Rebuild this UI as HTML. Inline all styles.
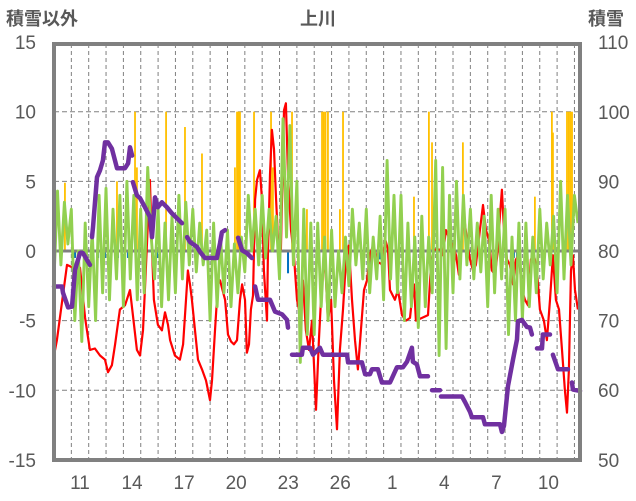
<!DOCTYPE html>
<html><head><meta charset="utf-8">
<style>
body{margin:0;background:#fff;}
svg{display:block;font-family:"Liberation Sans","Noto Sans CJK JP",sans-serif;}
</style></head>
<body>
<svg id="chart" width="636" height="501" viewBox="0 0 636 501" xmlns="http://www.w3.org/2000/svg">
<text x="6" y="25" font-size="18" fill="#595959" font-weight="bold">積雪以外</text>
<text x="318" y="25" font-size="18" fill="#595959" font-weight="bold" text-anchor="middle">上川</text>
<text x="588" y="25" font-size="18" fill="#595959" font-weight="bold">積雪</text>
<g id="grid"></g><g id="marks"></g><g id="labels"></g>
</svg>
<script>
const leftTicks=[15,10,5,0,-5,-10,-15];
const rightTicks=[110,100,90,80,70,60,50];
const dayLabels=["11","14","17","20","23","26","1","4","7","10"];
const dayLabelPos=[1,4,7,10,13,16,19,22,25,28];
const redT=[0,.17,.75,1.1,1.5,1.79,2.07,2.36,2.65,2.94,3.11,3.34,3.52,3.63,3.8,4.09,4.38,4.55,4.78,4.96,5.13,5.24,5.42,5.53,5.65,5.76,5.99,6.22,6.4,6.57,6.69,6.97,7.26,7.44,7.61,7.72,7.84,7.95,8.13,8.3,8.53,8.76,8.99,9.11,9.28,9.45,9.57,9.86,10.03,10.2,10.37,10.55,10.72,10.84,11.01,11.12,11.24,11.35,11.47,11.59,11.7,11.87,11.99,12.1,12.28,12.33,12.45,12.56,12.68,12.8,12.91,13.08,13.26,13.37,13.49,13.66,13.83,14.01,14.18,14.35,14.52,14.7,14.87,15.1,15.27,15.45,15.62,15.79,15.97,16.14,16.31,16.48,16.66,16.83,17.0,17.18,17.35,17.52,17.69,17.87,18.04,18.21,18.39,18.67,18.96,19.08,19.25,19.37,19.65,19.83,20.06,20.29,20.52,20.63,20.75,20.86,21.21,21.56,21.73,21.9,22.25,22.42,22.59,22.82,23.0,23.17,23.34,23.52,23.63,23.8,23.98,24.15,24.32,24.55,24.73,24.9,25.07,25.24,25.42,25.59,25.71,25.82,25.94,26.11,26.28,26.46,26.63,26.8,26.97,27.15,27.32,27.49,27.67,27.84,28.01,28.24,28.41,28.59,28.76,28.93,29.11,29.28,29.45,29.57,29.68,29.8,29.91,30.03,30.2];
const redV=[-7.5,-6.4,-1.0,-1.2,-1.2,-4.8,-7.1,-7.0,-7.5,-7.8,-8.7,-8.2,-6.7,-5.7,-4.2,-3.9,-2.8,-4.6,-7.1,-7.5,-5.7,-2.8,2.2,5.1,0.1,-3.5,-5.3,-5.7,-4.4,-5.3,-6.4,-7.5,-7.8,-6.7,-3.5,-1.4,-2.4,-3.5,-5.7,-7.8,-8.5,-9.3,-10.7,-9.3,-5.7,-2.4,-2.1,-3.5,-6.0,-6.5,-6.7,-6.4,-3.5,-2.4,-3.5,-7.3,-6.7,-4.2,-3.2,3.7,5.1,5.8,3.7,-1.4,-5.0,-0.3,5.5,8.7,7.3,3.7,0.8,0.1,10.1,10.6,5.5,1.5,-0.3,-3.5,-4.6,-2.1,-5.7,-7.1,-5.0,-11.4,-6.4,-2.1,-0.6,-5.0,-3.5,-9.3,-12.8,-7.1,-4.2,-0.6,0.4,-3.5,-6.4,-8.5,-5.7,-2.8,-2.1,-0.3,0.4,-0.8,-1.0,0.9,0.1,-2.8,-3.5,-2.8,-4.6,-5.0,-4.8,-3.5,-2.4,-5.0,-4.8,-4.6,-1.0,0.1,0.1,-0.3,1.5,0.8,0.4,-0.3,-1.7,1.1,2.6,0.8,-0.6,-1.4,-1.0,1.5,3.3,1.5,0.8,-1.4,-1.7,0.1,2.6,4.4,1.5,-0.6,-1.0,-2.4,-0.6,-0.3,-2.8,-3.5,-3.9,-0.6,-0.3,-1.4,-4.2,-5.0,-6.4,-3.5,-0.3,-3.5,-4.2,-7.1,-10.0,-11.6,-8.5,-1.4,-0.3,-2.8,-4.2];
const greenStep=0.2;
const greenV=[-2,4.3,-1,3.5,0.5, 3,-5,0,-6.5,2, -4,1.5,-5,4,-3, 4.5,-3.5,3,-2,4, -4,5,-2,4,-3.5, 3,-3,6,1,-2, 3,-4,2,-3.5,2.5, -3,4,-2,3.5,-1, 3,-1.5,2,-1,1.5, -5,2,-4,1,-3, 1.5,-4,0.5,-3,1, -1.5,4,0,3,-1, 4,-0.5,3,0,2.5, -2,9.5,1,9,-1, 5,-8,3,-6,2, -6,2,-4,1,-5, 1.5,-4,0,-3,1, -2.5,3,-1,2,-2, 3,-3,1,-2,2.5, -3.5,6.5,-2,4,-3, 4,-5,2,-4,1, -5.5,2.5,-4,1,-3, 6.5,-7.5,6,-7,4, -3,5,-2,4,-1, 3,-2,2,-1.5,2.5, -4,4,-3,3,-2, 3,-6,1,-5,2, -5,2,-4,1,-3, 3,-2,2,-1,2.5, -3,5,-2,4,-1, 4,2];
const snowT=[0,.46,.52,.81,1.04,1.21,1.5,1.67,1.9,2.07,null,2.19,2.25,2.48,2.65,2.82,2.94,3.11,3.34,3.63,4.09,4.27,4.38,4.5,null,4.55,4.78,4.96,5.24,5.53,5.65,5.82,5.99,6.22,6.51,6.8,7.09,7.38,null,7.67,7.84,8.24,8.41,8.7,9.39,9.57,9.68,9.86,null,10.61,10.84,11.12,11.41,null,11.59,11.76,12.45,12.74,13.14,13.43,13.49,null,13.72,14.29,14.35,14.76,14.93,15.33,15.5,16.89,16.95,17.75,17.93,18.21,18.33,18.67,18.9,19.37,19.77,20.12,20.35,20.63,20.69,20.92,21.1,21.56,null,21.79,22.25,null,22.31,23.52,23.69,23.98,24.09,24.73,24.84,25.71,25.82,25.94,26.17,26.46,26.69,26.74,26.97,27.26,27.44,27.55,null,27.84,28.13,28.18,28.59,null,28.76,29.05,29.63,null,29.86,29.91,30.32];
const snowV=[74.9,74.9,74,71.9,72,77.3,79.7,79.7,78.7,78,null,82,83.4,90.6,91.6,93,95.6,95.6,94.7,91.9,91.9,92.6,94.9,93.7,null,89.9,88,87.6,86.3,84.9,82,87.7,86.3,87,86.3,85.4,84.7,84,null,82,81.3,80.6,79.9,79,79,81.1,82.7,83,null,81.9,80.1,79.7,79,null,74.9,73,73,71.3,70.9,70.1,69,null,65.1,65.1,66.1,66.1,65.1,66.1,65.1,65.1,64,64,62.3,62.3,63,63,61.1,61.1,63.3,63.3,64.1,66.1,64.1,63.7,62,62,null,60,60,null,59.1,59.1,58.3,56.9,56.1,56.1,55.1,55.1,54,54.9,60.6,64.4,67.3,69.9,70.1,69.1,69,68,null,66,66,68,68,null,65.1,63,63,null,61.1,60.1,59.9];
const precipT=[0.63,3.63,4.67,4.78,6.46,7.55,8.53,10.43,10.55,10.6,10.66,10.72,11.53,12.51,12.62,13.72,14.58,15.45,15.55,15.65,15.79,16.48,16.66,20.75,21.61,21.79,23.57,27.72,28.7,28.76,29.57,29.67,29.77,29.86];
const precipV=[4.9,5,10,6,10,8.9,7,6,10,10,10,10,10,10,6,10,3,10,10,10,10,3,10,3.9,10,7.8,7.8,3.9,10,8.5,10,10,10,10];
const blueT=[1.21,2.25,2.54,2.94,3.69,4.27,5.71,5.94,6.11,9.91,13.49,18.1,18.21,18.79,26.34,26.51,26.69,26.86,27.9];
const blueV=[-0.5,-0.5,-0.5,-0.5,-0.5,-0.5,-1.9,-0.5,-0.5,-0.5,-1.6,-0.6,-2.2,-0.6,-0.5,-0.5,-0.5,-0.5,-0.4];

const X0=54,X1=580,Y0=44,Y1=460,DAYS=30.32;
const x=d=>X0+d*(X1-X0)/DAYS;
const yL=v=>251-v*13.93;
const yR=v=>251-(v-80)*6.96;
const NS="http://www.w3.org/2000/svg";
function mk(tag,attrs,parent){const e=document.createElementNS(NS,tag);for(const k in attrs)e.setAttribute(k,attrs[k]);parent.appendChild(e);return e;}
const grid=document.getElementById('grid'),marks=document.getElementById('marks'),labels=document.getElementById('labels');

for(let d=1;d<DAYS;d++){
  const l=mk('line',{x1:x(d),x2:x(d),y1:Y0,y2:Y1,stroke:'#808080','stroke-width':1,'stroke-dasharray':'4,3'},grid);
  
  
}
leftTicks.forEach(v=>{
  if(v!==15&&v!==-15&&v!==0){
    const l=mk('line',{x1:X0,x2:X1,y1:yL(v),y2:yL(v),stroke:'#808080','stroke-width':1,'stroke-dasharray':'5,3'},grid);
    
    
  }
  const t=mk('text',{x:36,y:yL(v)+7,'font-size':19,fill:'#595959','text-anchor':'end'},labels);
  t.textContent=v;
  
  
});
rightTicks.forEach(v=>{
  const t=mk('text',{x:598,y:yR(v)+7,'font-size':19,fill:'#595959'},labels);
  t.textContent=v;
  
  
});
dayLabels.forEach((s,i)=>{
  const t=mk('text',{x:x(dayLabelPos[i]+0.5),y:489,'font-size':19,fill:'#595959','text-anchor':'middle'},labels);
  t.textContent=s;
  
  
});

precipT.forEach((d,i)=>{
  const r=mk('rect',{x:x(d)-0.9,y:yL(precipV[i]),width:1.8,height:yL(0)-yL(precipV[i]),fill:'#ffc000'},marks);
  
  
});
blueT.forEach((d,i)=>{
  const r=mk('rect',{x:x(d)-1,y:yL(0),width:2,height:yL(blueV[i])-yL(0),fill:'#0070c0'},marks);
  
  
});
const zl=mk('line',{x1:X0,x2:X1,y1:yL(0),y2:yL(0),stroke:'#808080','stroke-width':3},marks);



let rp=redT.map((d,i)=>(i?'L':'M')+x(d).toFixed(1)+','+yL(redV[i]).toFixed(1)).join('');
const red=mk('path',{d:rp,fill:'none',stroke:'#ff0000','stroke-width':2.2,'stroke-linejoin':'round'},marks);



let gp=greenV.map((v,i)=>(i?'L':'M')+x(i*greenStep).toFixed(1)+','+yL(v).toFixed(1)).join('');
const green=mk('path',{d:gp,fill:'none',stroke:'#92d050','stroke-width':2.9,'stroke-linejoin':'round'},marks);



let sp='',pen=false;
snowT.forEach((d,i)=>{
  if(d===null){pen=false;return;}
  sp+=(pen?'L':'M')+x(d).toFixed(1)+','+yR(snowV[i]).toFixed(1);pen=true;
});
const snow=mk('path',{d:sp,fill:'none',stroke:'#7030a0','stroke-width':4.5,'stroke-linejoin':'round','stroke-linecap':'round'},marks);



const fr=mk('rect',{x:X0,y:Y0,width:X1-X0,height:Y1-Y0,fill:'none',stroke:'#808080','stroke-width':4},marks);


</script>
</body></html>
